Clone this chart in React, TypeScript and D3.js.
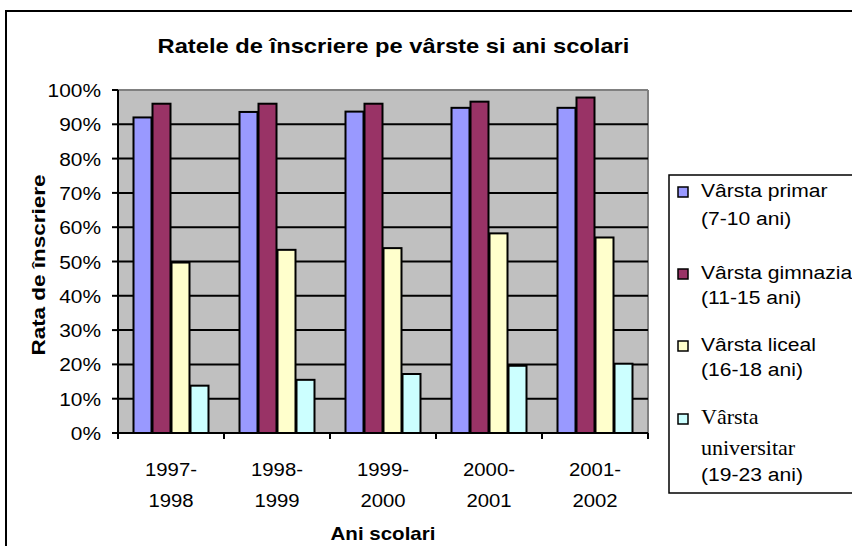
import React from "react";
import * as d3 from "d3";

const categories = ["1997-1998", "1998-1999", "1999-2000", "2000-2001", "2001-2002"];
const catLines = [["1997-", "1998"], ["1998-", "1999"], ["1999-", "2000"], ["2000-", "2001"], ["2001-", "2002"]];
const seriesNames = ["primar", "gimnazia", "liceal", "universitar"];
const primar = [0.92, 0.936, 0.937, 0.948, 0.948];
const gimnazia = [0.96, 0.96, 0.96, 0.966, 0.978];
const liceal = [0.497, 0.534, 0.539, 0.582, 0.57];
const universitar = [0.138, 0.155, 0.172, 0.196, 0.202];
const seriesValues = [primar, gimnazia, liceal, universitar];
const seriesColors = ["#9999FF", "#993366", "#FFFFCC", "#CCFFFF"];
const legendLines = [
  ["Vârsta primar", "(7-10 ani)"],
  ["Vârsta gimnazia", "(11-15 ani)"],
  ["Vârsta liceal", "(16-18 ani)"],
  ["Vârsta", "universitar", "(19-23 ani)"],
];
const yTicks = [0, 0.1, 0.2, 0.3, 0.4, 0.5, 0.6, 0.7, 0.8, 0.9, 1.0];

const SANS = "'Liberation Sans', Arial, sans-serif";
const SERIF = "'Liberation Serif', 'Times New Roman', serif";

type TProps = {
  x: number;
  y: number;
  sx?: number;
  rot?: number;
  anchor?: string;
  size: number;
  bold?: boolean;
  family?: string;
  children: React.ReactNode;
};

function T({ x, y, sx = 1.1, rot = 0, anchor = "start", size, bold = false, family = SANS, children }: TProps) {
  return (
    <text
      transform={`translate(${x},${y})${rot ? ` rotate(${rot})` : ""} scale(${sx},1)`}
      textAnchor={anchor}
      fontFamily={family}
      fontWeight={bold ? "bold" : "normal"}
      fontSize={size}
      fill="#000"
    >
      {children}
    </text>
  );
}

export default function App() {
  const W = 852, H = 546;
  const left = 118, right = 648, top = 90, bottom = 433;
  const y = d3.scaleLinear().domain([0, 1]).range([bottom, top]);
  const x0 = d3.scaleBand<string>().domain(categories).range([left, right]).paddingInner(0).paddingOuter(0);
  const x1 = d3.scaleBand<string>().domain(seriesNames).range([0, x0.bandwidth()]).paddingInner(0).paddingOuter(0.79);
  const fmt = d3.format(".0%");

  const legendBase = [
    [197, 225],
    [279, 304],
    [351, 376],
    [424, 455, 481],
  ];

  return (
    <svg width={W} height={H} style={{ position: "absolute", left: 0, top: 0, background: "#fff" }}>
      {/* outer chart border */}
      <rect x={6} y={11} width={900} height={600} fill="#fff" stroke="#000" strokeWidth={2} />
      {/* title */}
      <T x={393.5} y={53} anchor="middle" size={21} bold sx={1.13}>
        Ratele de înscriere pe vârste si ani scolari
      </T>
      {/* plot area */}
      <rect x={left} y={top} width={right - left} height={bottom - top} fill="#C0C0C0" />
      <line x1={left} x2={right} y1={top} y2={top} stroke="#808080" strokeWidth={2} />
      <line x1={right} x2={right} y1={top} y2={bottom} stroke="#808080" strokeWidth={2} />
      {/* gridlines */}
      {yTicks.filter((t) => t > 0 && t < 1).map((t) => (
        <line key={t} x1={left} x2={right} y1={y(t)} y2={y(t)} stroke="#000" strokeWidth={2} />
      ))}
      {/* bars */}
      {categories.map((c, ci) => (
        <g key={c} transform={`translate(${x0(c)},0)`}>
          {seriesNames.map((s, si) => (
            <rect
              key={s}
              x={(x1(s) as number) + 0.5}
              y={y(seriesValues[si][ci])}
              width={x1.bandwidth() - 1}
              height={bottom - y(seriesValues[si][ci])}
              fill={seriesColors[si]}
              stroke="#000"
              strokeWidth={2}
            />
          ))}
        </g>
      ))}
      {/* axes */}
      <line x1={left} x2={left} y1={top} y2={bottom} stroke="#000" strokeWidth={2} />
      <line x1={left} x2={right} y1={bottom} y2={bottom} stroke="#000" strokeWidth={2} />
      {yTicks.map((t) => (
        <g key={t}>
          <line x1={left - 6} x2={left} y1={y(t)} y2={y(t)} stroke="#000" strokeWidth={2} />
          <T x={101} y={y(t) + 7} anchor="end" size={19} sx={1.1}>
            {fmt(t)}
          </T>
        </g>
      ))}
      {[...categories.map((c) => x0(c) as number), right].map((v, i) => (
        <line key={i} x1={v} x2={v} y1={bottom} y2={bottom + 6} stroke="#000" strokeWidth={2} />
      ))}
      {categories.map((c, ci) =>
        catLines[ci].map((ln, li) => (
          <T key={c + li} x={(x0(c) as number) + x0.bandwidth() / 2} y={476 + li * 31} anchor="middle" size={19} sx={1.07}>
            {ln}
          </T>
        ))
      )}
      {/* axis titles */}
      <T x={(left + right) / 2} y={540} anchor="middle" size={18} bold sx={1.14}>
        Ani scolari
      </T>
      <T x={45} y={265} rot={-90} anchor="middle" size={18} bold sx={1.25}>
        Rata de înscriere
      </T>
      {/* legend */}
      <rect x={669} y={175} width={200} height={318} fill="#fff" stroke="#000" strokeWidth={1.5} />
      {legendLines.map((lines, i) => {
        const bases = legendBase[i];
        return (
          <g key={i}>
            <rect x={678} y={bases[0] - 10} width={10} height={10} fill={seriesColors[i]} stroke="#000" strokeWidth={1.5} />
            {lines.map((ln, li) => {
              const serifLine = i === 3 && li < 2;
              return (
                <T
                  key={li}
                  x={701}
                  y={bases[li]}
                  family={serifLine ? SERIF : SANS}
                  size={serifLine ? 22 : 19}
                  sx={serifLine ? 1 : 1.11}
                >
                  {ln}
                </T>
              );
            })}
          </g>
        );
      })}
    </svg>
  );
}
